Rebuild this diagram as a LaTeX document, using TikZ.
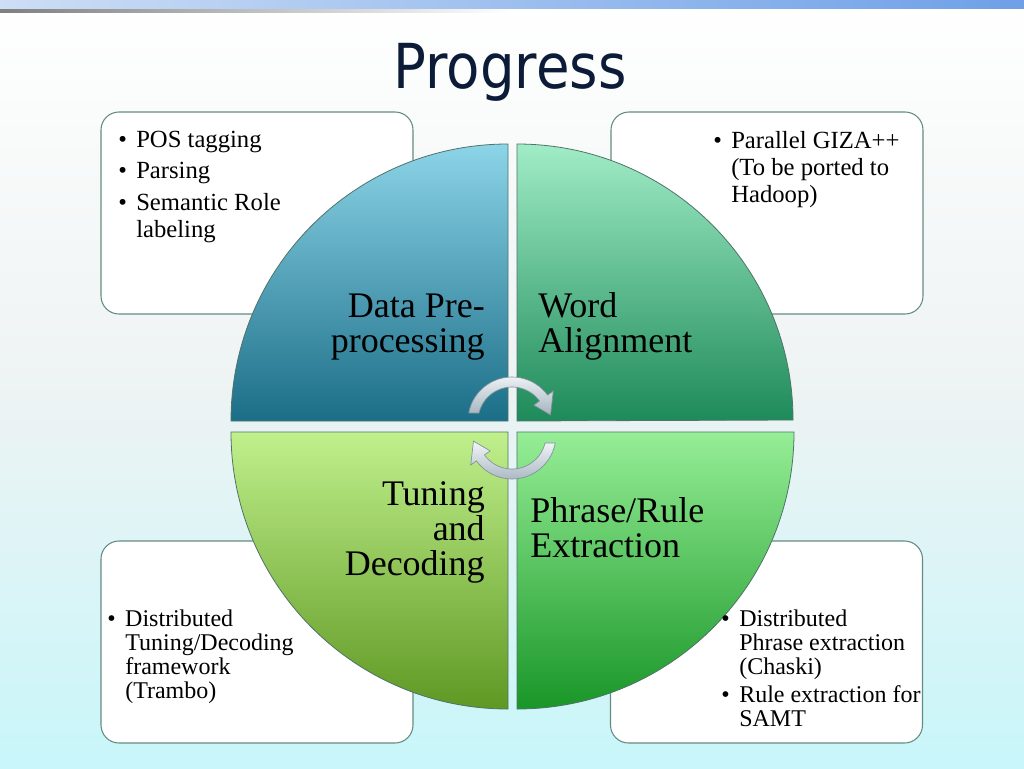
\documentclass[tikz,border=0pt]{standalone}
\usepackage{fontspec}
\setmainfont{Liberation Serif}
\newfontfamily\titlefont[FakeStretch=0.88]{DejaVu Sans}
\usetikzlibrary{positioning}

\definecolor{titleblue}{RGB}{12,28,56}
\definecolor{boxline}{RGB}{100,140,128}
\definecolor{quadline}{RGB}{80,115,105}
\definecolor{bgmid}{RGB}{238,243,243}
\definecolor{bgbot}{RGB}{200,246,250}
\definecolor{barleft}{RGB}{205,222,245}
\definecolor{barright}{RGB}{110,160,232}

\newenvironment{bullets}{\begin{tabular}[t]{@{}p{13.5pt}@{}l@{}}}{\end{tabular}}
\newcommand\nextitem{\\[3.4pt]}
\newcommand\turnarrow{(169.5:44) arc[start angle=169.5, end angle=36, radius=44] -- (36:51) -- (9:39) -- (36:27) -- (36:34) arc[start angle=36, end angle=166.4, radius=34] -- cycle}

\tikzset{
  infobox/.style={draw=boxline, fill=white, line width=0.8pt, rounded corners=13.5pt, minimum width=234pt, minimum height=151.5pt},
  quad/.style={draw=quadline, line width=0.6pt},
  quadtext/.style={inner sep=0pt, text width=128pt, font=\fontsize{27}{26.6}\selectfont},
  toplist/.style={anchor=base west, inner sep=0pt, font=\fontsize{18.5}{20.25}\selectfont},
  botlist/.style={anchor=base west, inner sep=0pt, font=\fontsize{18}{18}\selectfont},
  turn/.style={draw={rgb,255:red,130;green,145;blue,155}, line width=0.5pt, top color={rgb,255:red,242;green,246;blue,248}, bottom color={rgb,255:red,165;green,180;blue,192}}
}

\begin{document}
\begin{tikzpicture}[x=0.75pt, y=-0.75pt]
        \useasboundingbox (0,0) rectangle (1024,768);
        \shade[top color=white, bottom color=bgbot, middle color=bgmid] (0,0) rectangle (1024,768);
        \shade[left color=barleft, right color=barright] (0,0) rectangle (1024,8);
        \shade[left color=gray, right color=white] (0,9) rectangle (512,12);

        \node[font=\titlefont\fontsize{46.5}{50}\selectfont, text=titleblue, anchor=base] (title) at (510,88) {Progress};

        \node[infobox] (prepbox) at (257,213) {};
        \node[infobox] (alignbox) at (767,213) {};
        \node[infobox] (tunebox) at (257,642) {};
        \node[infobox] (rulebox) at (766.5,642) {};

        \shade[quad, top color={rgb,255:red,140;green,212;blue,232}, bottom color={rgb,255:red,27;green,110;blue,135}] (508,421) -- (231,421) arc[start angle=180, end angle=270, radius=277] -- cycle;
        \shade[quad, top color={rgb,255:red,160;green,236;blue,198}, bottom color={rgb,255:red,30;green,138;blue,90}] (517,421) -- (517,144) arc[start angle=270, end angle=360, radius=276] -- cycle;
        \shade[quad, top color={rgb,255:red,192;green,240;blue,140}, bottom color={rgb,255:red,95;green,152;blue,35}] (508,432) -- (231,432) arc[start angle=180, end angle=90, radius=277] -- cycle;
        \shade[quad, top color={rgb,255:red,150;green,238;blue,150}, bottom color={rgb,255:red,25;green,150;blue,40}] (517,432) -- (794,432) arc[start angle=0, end angle=90, radius=277] -- cycle;

        \node[quadtext, anchor=base east, align=flush right] (prep) at (485,317) {Data Pre-\\processing};
        \node[quadtext, anchor=base west, align=flush left] (align) at (538,317) {Word\\Alignment};
        \node[quadtext, anchor=base east, align=flush right] (tune) at (485,505) {Tuning\\and\\Decoding};
        \node[quadtext, anchor=base west, align=flush left] (rule) at (530,522) {Phrase/Rule\\Extraction};

        \begin{scope}[shift={(512,421)}, yscale=-1]
          \shade[turn] \turnarrow;
        \end{scope}
        \begin{scope}[shift={(512,435)}, xscale=-1]
          \shade[turn] \turnarrow;
        \end{scope}

        \node[toplist] (preplist) at (118,147) {\begin{bullets}
            \textbullet & POS tagging\nextitem
            \textbullet & Parsing\nextitem
            \textbullet & Semantic Role\\ & labeling
          \end{bullets}};
        \node[toplist] (alignlist) at (713,148) {\begin{bullets}
            \textbullet & Parallel GIZA++\\ & (To be ported to\\ & Hadoop)
          \end{bullets}};
        \node[botlist] (tunelist) at (107,626) {\begin{bullets}
            \textbullet & Distributed\\ & Tuning/Decoding\\ & framework\\ & (Trambo)
          \end{bullets}};
        \node[botlist] (rulelist) at (721,626) {\begin{bullets}
            \textbullet & Distributed\\ & Phrase extraction\\ & (Chaski)\nextitem
            \textbullet & Rule extraction for\\ & SAMT
          \end{bullets}};
    \end{tikzpicture}
\end{document}
